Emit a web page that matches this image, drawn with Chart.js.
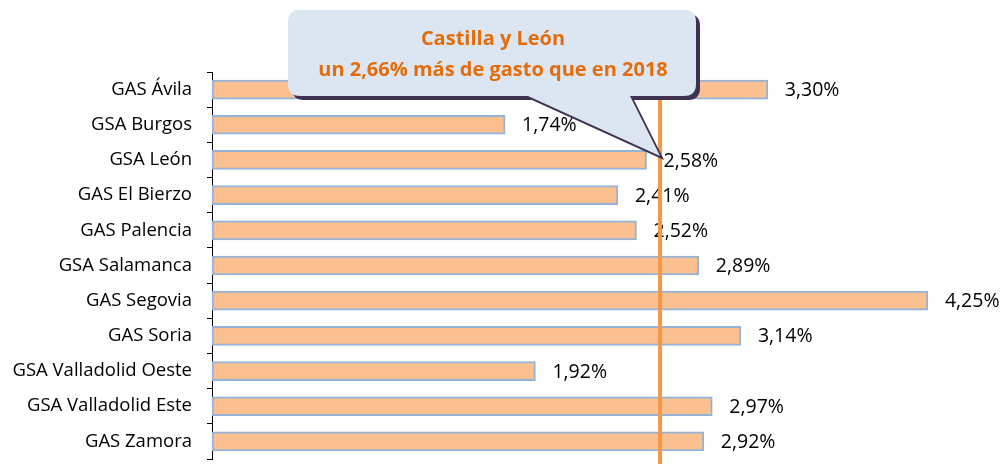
<!DOCTYPE html>
<html>
<head>
<meta charset="utf-8">
<script src="https://cdn.jsdelivr.net/npm/chart.js@4"></script>
<style>
  html, body { margin: 0; background: #fff; }
  #wrap { width: 1007px; height: 464px; }
</style>
</head>
<body>
<div id="wrap"><canvas id="gasto"></canvas></div>
<script>
const AREAS = [
  "GAS Ávila", "GSA Burgos", "GSA León", "GAS El Bierzo", "GAS Palencia",
  "GSA Salamanca", "GAS Segovia", "GAS Soria", "GSA Valladolid Oeste",
  "GSA Valladolid Este", "GAS Zamora"
];
const GROWTH = [3.30, 1.74, 2.58, 2.41, 2.52, 2.89, 4.25, 3.14, 1.92, 2.97, 2.92];
const REGION_AVG = 2.66;
const CALLOUT = ["Castilla y León", "un 2,66% más de gasto que en 2018"];

const FONT = "'Open Sans', Calibri, sans-serif";
const COLORS = {
  fill: "#FAC090",
  edge: "#95B3D7",
  line: "#F79646",
  bubble: "#DCE6F2",
  shadow: "#3F3151",
  title: "#E46C0A"
};

function pct(v){
  return v.toFixed(2).replace(".", ",") + "%";
}

// value labels at bar ends
const valueLabels = {
  id: "valueLabels",
  afterDatasetsDraw(chart){
    const ctx = chart.ctx;
    const meta = chart.getDatasetMeta(0);
    ctx.save();
    ctx.font = `19.5px ${FONT}`;
    ctx.fillStyle = "#000";
    ctx.textAlign = "left";
    ctx.textBaseline = "middle";
    meta.data.forEach((bar, i) => {
      ctx.fillText(pct(GROWTH[i]), bar.x + 17, bar.y + 1);
    });
    ctx.restore();
  }
};

// regional average line + callout bubble
const avgCallout = {
  id: "avgCallout",
  afterDraw(chart){
    const ctx = chart.ctx;
    const x = chart.scales.x.getPixelForValue(REGION_AVG);
    const tipY = chart.getDatasetMeta(0).data[2].y - 4;

    ctx.save();
    ctx.strokeStyle = COLORS.line;
    ctx.lineWidth = 4;
    ctx.beginPath();
    ctx.moveTo(x, 90);
    ctx.lineTo(x, chart.height);
    ctx.stroke();

    const L = 288, R = 696, T = 10, B = 96, r = 12;
    const shape = (dx, dy) => {
      ctx.beginPath();
      ctx.moveTo(L + r + dx, T + dy);
      ctx.lineTo(R - r + dx, T + dy);
      ctx.quadraticCurveTo(R + dx, T + dy, R + dx, T + r + dy);
      ctx.lineTo(R + dx, B - r + dy);
      ctx.quadraticCurveTo(R + dx, B + dy, R - r + dx, B + dy);
      ctx.lineTo(630 + dx, B + dy);
      ctx.lineTo(x + dx, tipY + dy);
      ctx.lineTo(528 + dx, B + dy);
      ctx.lineTo(L + r + dx, B + dy);
      ctx.quadraticCurveTo(L + dx, B + dy, L + dx, B - r + dy);
      ctx.lineTo(L + dx, T + r + dy);
      ctx.quadraticCurveTo(L + dx, T + dy, L + r + dx, T + dy);
      ctx.closePath();
    };
    ctx.fillStyle = COLORS.shadow;
    shape(4, 4);
    ctx.fill();
    ctx.fillStyle = COLORS.bubble;
    shape(0, 0);
    ctx.fill();

    ctx.fillStyle = COLORS.title;
    ctx.font = `bold 20px ${FONT}`;
    ctx.textAlign = "center";
    ctx.textBaseline = "middle";
    ctx.fillText(CALLOUT[0], 493, 39);
    ctx.fillText(CALLOUT[1], 493, 70);
    ctx.restore();
  }
};

new Chart(document.getElementById("gasto"), {
  type: "bar",
  data: {
    labels: AREAS,
    datasets: [{
      data: GROWTH,
      backgroundColor: COLORS.fill,
      borderColor: COLORS.edge,
      borderWidth: 2,
      borderSkipped: false,
      barThickness: 19
    }]
  },
  options: {
    indexAxis: "y",
    responsive: true,
    maintainAspectRatio: false,
    animation: false,
    layout: { padding: { top: 72, bottom: 5, right: 37, left: 0 } },
    plugins: {
      legend: { display: false },
      tooltip: { enabled: false }
    },
    scales: {
      x: { display: false, min: 0, max: 4.5 },
      y: {
        afterFit: (s) => { s.width = 212; s.paddingTop = 0; s.paddingBottom = 0; },
        border: { display: true, color: "#000", width: 1 },
        grid: { drawOnChartArea: false, tickLength: 5, color: "#000", offset: true },
        ticks: { color: "#000", padding: 15, font: { family: FONT, size: 18.5 } }
      }
    }
  },
  plugins: [valueLabels, avgCallout]
});
</script>
</body>
</html>
